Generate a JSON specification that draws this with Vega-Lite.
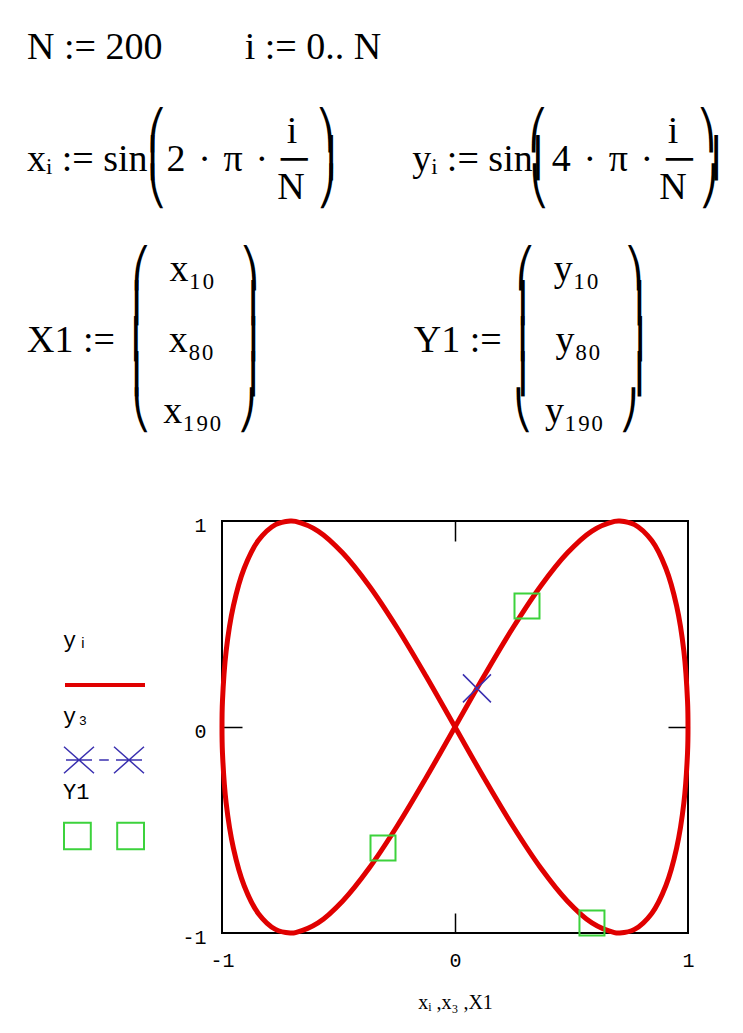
{
  "$schema": "https://vega.github.io/schema/vega-lite/v6.json",
  "width": 466,
  "height": 412,
  "autosize": {"type": "none"},
  "padding": {"left": 222, "top": 521, "right": 55, "bottom": 100},
  "background": "white",
  "title": {
    "text": [
      "N := 200\u2003\u2003\u2006i := 0.. N",
      "\u200b",
      "\u200b",
      "\u200b\u2003\u2003\u2003\u2006⎛\u2003\u2003\u2003\u2006i\u2005\u2005⎞\u2003\u2003\u2003\u2003\u2004\u2004\u2005\u2006⎛\u2003\u2003\u2003\u2006i\u2005\u2005⎞",
      "xᵢ := sin⎜2\u2004·\u2004π\u2004·\u2004─\u2005⎟\u2003\u2003yᵢ := sin⎜4\u2004·\u2004π\u2004·\u2004─\u2005⎟",
      "\u200b\u2003\u2003\u2003\u2006⎝\u2003\u2003\u2002\u2005\u2006N\u2004⎠\u2003\u2003\u2003\u2003\u2004\u2004\u2005\u2006⎝\u2003\u2003\u2002\u2005\u2006N\u2004⎠"
    ],
    "subtitle": [
      "\u200b\u2003\u2003\u2002\u2005⎛\u2002x₁₀\u2002\u2006⎞\u2003\u2003\u2003\u2003\u2003\u2003\u2002\u2005⎛\u2002y₁₀\u2002\u2006⎞",
      "\u200b\u2003\u2003\u2002\u2005⎜\u2003\u2003\u2006\u2006⎟\u2003\u2003\u2003\u2003\u2003\u2003\u2002\u2006\u2006⎜\u2003\u2003\u2006\u2006⎟",
      "X1 :=\u2005\u2006⎜\u2002x₈₀\u2002\u2006⎟\u2003\u2003\u2003\u2004\u2004\u2005\u2006Y1 :=\u2005\u2006⎜\u2002y₈₀\u2002\u2006⎟",
      "\u200b\u2003\u2003\u2002\u2005⎜\u2003\u2003\u2006\u2006⎟\u2003\u2003\u2003\u2003\u2003\u2003\u2002\u2006\u2006⎜\u2003\u2003\u2006\u2006⎟",
      "\u200b\u2003\u2003\u2002\u2005⎝\u2004x₁₉₀\u2005\u2006⎠\u2003\u2003\u2003\u2003\u2003\u2003\u2002\u2005⎝\u2004y₁₉₀\u2005\u2006⎠"
    ],
    "anchor": "start",
    "frame": "group",
    "orient": "top",
    "dx": -195,
    "offset": 80,
    "font": "Liberation Serif, DejaVu Serif",
    "fontSize": 38,
    "fontWeight": "normal",
    "color": "black",
    "lineHeight": 28,
    "subtitleFont": "Liberation Serif, DejaVu Serif",
    "subtitleFontSize": 38,
    "subtitleFontWeight": "normal",
    "subtitleColor": "black",
    "subtitleLineHeight": 35.5,
    "subtitlePadding": 44
  },
  "datasets": {
    "curve": [
      {"i": 0, "x": 0, "y": 0},
      {"i": 4, "x": 0.1253, "y": 0.2487},
      {"i": 8, "x": 0.2487, "y": 0.4818},
      {"i": 12, "x": 0.3681, "y": 0.6845},
      {"i": 16, "x": 0.4818, "y": 0.8443},
      {"i": 20, "x": 0.5878, "y": 0.9511},
      {"i": 24, "x": 0.6845, "y": 0.998},
      {"i": 25, "x": 0.7071, "y": 1},
      {"i": 28, "x": 0.7705, "y": 0.9823},
      {"i": 32, "x": 0.8443, "y": 0.9048},
      {"i": 36, "x": 0.9048, "y": 0.7705},
      {"i": 40, "x": 0.9511, "y": 0.5878},
      {"i": 44, "x": 0.9823, "y": 0.3681},
      {"i": 48, "x": 0.998, "y": 0.1253},
      {"i": 50, "x": 1, "y": 0},
      {"i": 52, "x": 0.998, "y": -0.1253},
      {"i": 56, "x": 0.9823, "y": -0.3681},
      {"i": 60, "x": 0.9511, "y": -0.5878},
      {"i": 64, "x": 0.9048, "y": -0.7705},
      {"i": 68, "x": 0.8443, "y": -0.9048},
      {"i": 72, "x": 0.7705, "y": -0.9823},
      {"i": 75, "x": 0.7071, "y": -1},
      {"i": 76, "x": 0.6845, "y": -0.998},
      {"i": 80, "x": 0.5878, "y": -0.9511},
      {"i": 84, "x": 0.4818, "y": -0.8443},
      {"i": 88, "x": 0.3681, "y": -0.6845},
      {"i": 92, "x": 0.2487, "y": -0.4818},
      {"i": 96, "x": 0.1253, "y": -0.2487},
      {"i": 100, "x": 0, "y": 0},
      {"i": 104, "x": -0.1253, "y": 0.2487},
      {"i": 108, "x": -0.2487, "y": 0.4818},
      {"i": 112, "x": -0.3681, "y": 0.6845},
      {"i": 116, "x": -0.4818, "y": 0.8443},
      {"i": 120, "x": -0.5878, "y": 0.9511},
      {"i": 124, "x": -0.6845, "y": 0.998},
      {"i": 125, "x": -0.7071, "y": 1},
      {"i": 128, "x": -0.7705, "y": 0.9823},
      {"i": 132, "x": -0.8443, "y": 0.9048},
      {"i": 136, "x": -0.9048, "y": 0.7705},
      {"i": 140, "x": -0.9511, "y": 0.5878},
      {"i": 144, "x": -0.9823, "y": 0.3681},
      {"i": 148, "x": -0.998, "y": 0.1253},
      {"i": 150, "x": -1, "y": 0},
      {"i": 152, "x": -0.998, "y": -0.1253},
      {"i": 156, "x": -0.9823, "y": -0.3681},
      {"i": 160, "x": -0.9511, "y": -0.5878},
      {"i": 164, "x": -0.9048, "y": -0.7705},
      {"i": 168, "x": -0.8443, "y": -0.9048},
      {"i": 172, "x": -0.7705, "y": -0.9823},
      {"i": 175, "x": -0.7071, "y": -1},
      {"i": 176, "x": -0.6845, "y": -0.998},
      {"i": 180, "x": -0.5878, "y": -0.9511},
      {"i": 184, "x": -0.4818, "y": -0.8443},
      {"i": 188, "x": -0.3681, "y": -0.6845},
      {"i": 192, "x": -0.2487, "y": -0.4818},
      {"i": 196, "x": -0.1253, "y": -0.2487},
      {"i": 200, "x": 0, "y": 0}
    ],
    "cross": [
      {"i": 3, "x": 0.0941, "y": 0.1874}
    ],
    "squares": [
      {"i": 10, "x": 0.309, "y": 0.5878},
      {"i": 80, "x": 0.5878, "y": -0.9511},
      {"i": 190, "x": -0.309, "y": -0.5878}
    ]
  },
  "layer": [
    {
      "data": {"name": "curve"},
      "mark": {"type": "line", "strokeWidth": 5, "interpolate": "catmull-rom", "clip": false},
      "encoding": {
        "x": {
          "field": "x", "type": "quantitative",
          "scale": {"domain": [-1, 1], "nice": false, "zero": false},
          "axis": {
            "orient": "bottom", "values": [-1, 0, 1], "ticks": false, "domain": false, "grid": false,
            "labelExpr": "datum.value + ''",
            "labelFont": "Liberation Mono", "labelFontSize": 20, "labelColor": "black",
            "labelPadding": 17, "labelFlush": false,
            "title": "xᵢ ,x₃ ,X1", "titleFont": "Liberation Serif, DejaVu Serif", "titleFontSize": 20,
            "titleFontWeight": "normal", "titleColor": "black", "titlePadding": 22
          }
        },
        "y": {
          "field": "y", "type": "quantitative",
          "scale": {"domain": [-1, 1], "nice": false, "zero": false},
          "axis": {
            "orient": "left", "values": [-1, 0, 1], "ticks": false, "domain": false, "grid": false,
            "labelExpr": "datum.value + ''",
            "labelFont": "Liberation Mono", "labelFontSize": 20, "labelColor": "black",
            "labelPadding": 16, "labelFlush": false, "labelBaseline": "middle", "labelOffset": 4,
            "title": null
          }
        },
        "order": {"field": "i", "type": "quantitative"},
        "color": {
          "datum": "yᵢ",
          "scale": {"range": ["#e00000"]},
          "legend": {
            "title": "yᵢ", "orient": "none", "legendX": -159, "legendY": 109,
            "symbolType": "stroke", "symbolSize": 6400, "symbolStrokeWidth": 4,
            "labelExpr": "''", "titleFont": "Liberation Mono", "titleFontSize": 22,
            "titleFontWeight": "normal", "titleColor": "black", "titlePadding": -9
          }
        }
      }
    },
    {
      "data": {"name": "cross"},
      "mark": {"type": "point", "shape": "M-1,-1L1,1M-1,1L1,-1", "filled": false, "size": 784, "strokeWidth": 1.5, "opacity": 1},
      "encoding": {
        "x": {
          "field": "x", "type": "quantitative",
          "scale": {"domain": [-1, 1], "nice": false, "zero": false},
          "axis": {
            "orient": "top", "values": [0], "labels": false, "domain": false, "grid": false,
            "ticks": true, "tickSize": -20, "tickColor": "black", "tickWidth": 1.5, "title": null
          }
        },
        "y": {
          "field": "y", "type": "quantitative",
          "scale": {"domain": [-1, 1], "nice": false, "zero": false},
          "axis": {
            "orient": "right", "values": [0], "labels": false, "domain": false, "grid": false,
            "ticks": true, "tickSize": -20, "tickColor": "black", "tickWidth": 1.5, "title": null
          }
        },
        "stroke": {
          "datum": "y₃",
          "scale": {"range": ["#3a30b0"]},
          "legend": {
            "title": "y₃", "orient": "none", "legendX": -159, "legendY": 185,
            "symbolType": "M-1,-0.33L-0.25,0.33M-1,0.33L-0.25,-0.33M-0.95,0L-0.3,0M-0.12,0L0.12,0M0.25,-0.33L1,0.33M0.25,0.33L1,-0.33M0.3,0L0.95,0",
            "symbolSize": 6400, "symbolStrokeWidth": 1.5,
            "labelExpr": "''", "titleFont": "Liberation Mono", "titleFontSize": 22,
            "titleFontWeight": "normal", "titleColor": "black", "titlePadding": -9
          }
        }
      }
    },
    {
      "data": {"name": "squares"},
      "mark": {"type": "point", "shape": "square", "filled": false, "size": 625, "color": "#3cd23c", "opacity": 1},
      "encoding": {
        "x": {
          "field": "x", "type": "quantitative",
          "scale": {"domain": [-1, 1], "nice": false, "zero": false},
          "axis": {
            "orient": "bottom", "values": [0], "labels": false, "domain": false, "grid": false,
            "ticks": true, "tickSize": -20, "tickColor": "black", "tickWidth": 1.5, "title": null
          }
        },
        "y": {
          "field": "y", "type": "quantitative",
          "scale": {"domain": [-1, 1], "nice": false, "zero": false},
          "axis": {
            "orient": "left", "values": [0], "labels": false, "domain": false, "grid": false,
            "ticks": true, "tickSize": -20, "tickColor": "black", "tickWidth": 1.5, "title": null
          }
        },
        "strokeWidth": {
          "datum": "Y1",
          "scale": {"type": "point", "range": [2, 2]},
          "legend": {
            "title": "Y1", "orient": "none", "legendX": -159, "legendY": 261,
            "symbolType": "M-1,-0.33H-0.33V0.33H-1ZM0.33,-0.33H1V0.33H0.33Z",
            "symbolSize": 6400, "symbolStrokeColor": "#3cd23c",
            "labelExpr": "''", "titleFont": "Liberation Mono", "titleFontSize": 22,
            "titleFontWeight": "normal", "titleColor": "black", "titlePadding": -9
          }
        }
      }
    }
  ],
  "resolve": {"axis": {"x": "independent", "y": "independent"}},
  "config": {
    "view": {"stroke": "black", "strokeWidth": 2},
    "axis": {"grid": false}
  }
}
